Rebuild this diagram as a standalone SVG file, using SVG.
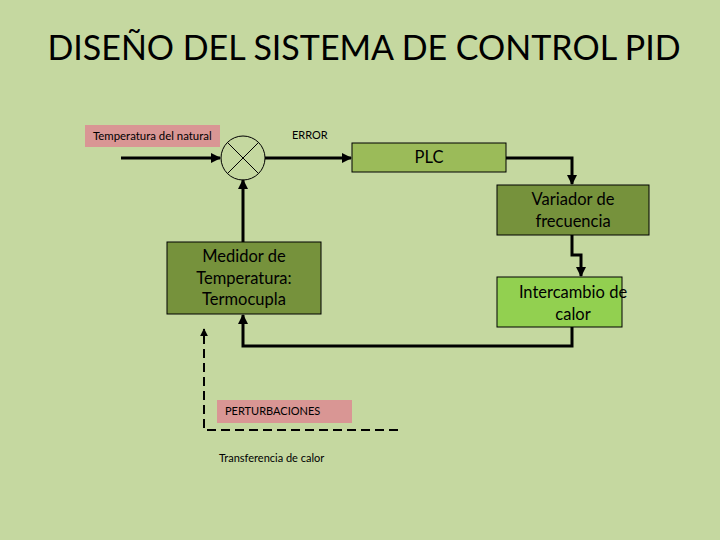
<svg xmlns="http://www.w3.org/2000/svg" width="720" height="540" viewBox="0 0 720 540">
<style>
.t{font-family:Lato,"Liberation Sans",sans-serif;fill:#000}
.sm{font-size:11px}
.md{font-size:16.5px}
.ln{fill:none;stroke:#000;stroke-width:3}
.dash{fill:none;stroke:#000;stroke-width:2;stroke-dasharray:9,5}
.box{stroke:#000;stroke-width:1}
</style>
<defs>
<marker id="ah" viewBox="0 0 10 10" refX="9" refY="5" markerWidth="3.4" markerHeight="3.4" orient="auto" markerUnits="strokeWidth">
<path d="M0,0 L10,5 L0,10 Z" fill="#000"/>
</marker>
<marker id="ahs" viewBox="0 0 10 10" refX="9" refY="5" markerWidth="4" markerHeight="4" orient="auto" markerUnits="strokeWidth">
<path d="M0,0 L10,5 L0,10 Z" fill="#000"/>
</marker>
</defs>
<rect width="720" height="540" fill="#C5D8A0"/>
<text class="t" x="364" y="60" font-size="34" text-anchor="middle">DISEÑO DEL SISTEMA DE CONTROL PID</text>

<g id="temp-natural">
<rect x="85" y="125" width="135" height="22" fill="#D99694"/>
<text class="t" x="93" y="140" font-size="11.4">Temperatura del natural</text>
</g>
<g id="error-label">
<text class="t sm" x="292" y="139">ERROR</text>
</g>
<g id="sumador">
<circle cx="243" cy="158" r="22" fill="none" stroke="#000" stroke-width="1"/>
<path d="M227.4,142.4 L258.6,173.6 M258.6,142.4 L227.4,173.6" stroke="#000" stroke-width="1"/>
</g>
<g id="plc">
<rect class="box" x="352" y="143" width="154" height="29" fill="#9BBB59"/>
<text class="t md" x="429" y="163" text-anchor="middle">PLC</text>
</g>
<g id="variador">
<rect class="box" x="497" y="185" width="152" height="50" fill="#76923C"/>
<text class="t md" x="573" y="205" text-anchor="middle">Variador de</text>
<text class="t md" x="573" y="227" text-anchor="middle">frecuencia</text>
</g>
<g id="intercambio">
<rect class="box" x="497" y="277" width="125" height="50" fill="#92D050"/>
<text class="t md" x="573" y="298" text-anchor="middle">Intercambio de</text>
<text class="t md" x="573" y="320" text-anchor="middle">calor</text>
</g>
<g id="medidor">
<rect class="box" x="167" y="242" width="154" height="72" fill="#76923C"/>
<text class="t md" x="244" y="262" text-anchor="middle">Medidor de</text>
<text class="t md" x="244" y="284" text-anchor="middle">Temperatura:</text>
<text class="t md" x="244" y="305" text-anchor="middle">Termocupla</text>
</g>
<g id="perturbaciones">
<rect x="217" y="400" width="135" height="23" fill="#D99694"/>
<text class="t sm" x="225" y="415">PERTURBACIONES</text>
</g>
<g id="transferencia">
<text class="t sm" x="219" y="462">Transferencia de calor</text>
</g>

<g id="connectors">
<path class="ln" d="M121,158 H220" marker-end="url(#ah)"/>
<path class="ln" d="M265,158 H351" marker-end="url(#ah)"/>
<path class="ln" d="M506,158 H572 V184" marker-end="url(#ah)"/>
<path class="ln" d="M572,235 V255 H581 V276" marker-end="url(#ah)"/>
<path class="ln" d="M572,327 V346 H243 V315" marker-end="url(#ah)"/>
<path class="ln" d="M243,242 V180" marker-end="url(#ah)"/>
<path class="dash" d="M398,430 H204 V329" marker-end="url(#ahs)"/>
</g>
</svg>
